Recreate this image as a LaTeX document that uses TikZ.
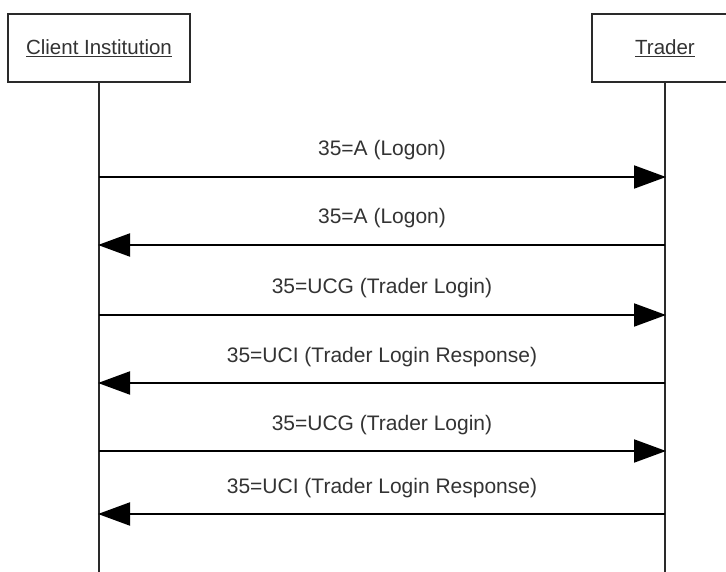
\documentclass[tikz,border=0pt]{standalone}
\usepackage{fontspec}
\setmainfont{Liberation Sans}
\usetikzlibrary{arrows.meta}
\definecolor{txt}{HTML}{333333}
\definecolor{edge}{HTML}{2A2A2A}
\tikzset{
  actor/.style={draw=edge, line width=1.6pt, fill=white, minimum height=68pt, inner sep=0pt, text=txt,
     font=\fontsize{20.5}{24}\selectfont},
  lifeline/.style={draw=edge, line width=1.8pt},
  msg/.style={draw=black, line width=2pt, -{Triangle[length=32pt,width=23pt]}, shorten >=-1pt},
  lbl/.style={anchor=base, yshift=21pt, text=txt, font=\fontsize{21}{25}\selectfont, inner sep=0pt}
}
\begin{document}
\begin{tikzpicture}[x=1pt,y=-1pt]
\useasboundingbox (0,0) rectangle (726,572);
\fill[white] (0,0) rectangle (726,572);
\node[actor, minimum width=182pt] (client) at (99,48) {\underline{Client Institution}};
\node[actor, minimum width=146pt] (trader) at (665,48) {\underline{Trader}};
\coordinate (cend) at (99,572);
\coordinate (tend) at (665,572);
\draw[lifeline] (client.south) -- (cend);
\draw[lifeline] (trader.south) -- (tend);
\foreach \i/\y in {1/177,2/245,3/315,4/383,5/451,6/514}{
  \coordinate (c\i) at (99,\y);
  \coordinate (t\i) at (665,\y);
}
\draw[msg] (c1) -- node[lbl] {35=A (Logon)} (t1);
\draw[msg] (t2) -- node[lbl] {35=A (Logon)} (c2);
\draw[msg] (c3) -- node[lbl] {35=UCG (Trader Login)} (t3);
\draw[msg] (t4) -- node[lbl] {35=UCI (Trader Login Response)} (c4);
\draw[msg] (c5) -- node[lbl] {35=UCG (Trader Login)} (t5);
\draw[msg] (t6) -- node[lbl] {35=UCI (Trader Login Response)} (c6);
\end{tikzpicture}
\end{document}
